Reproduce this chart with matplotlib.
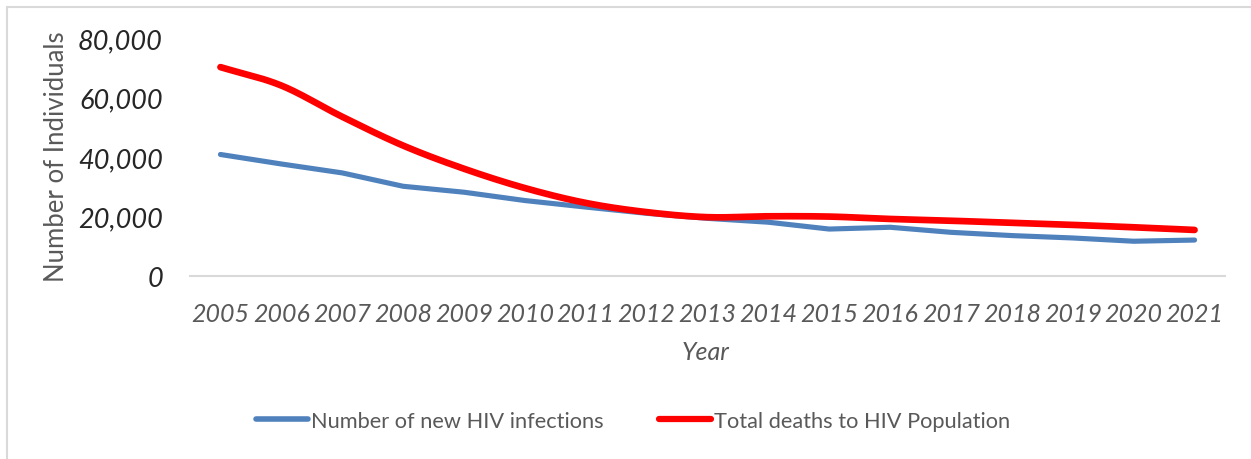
import matplotlib
matplotlib.use("Agg")
import matplotlib.pyplot as plt
import numpy as np
from matplotlib.patches import Rectangle
from matplotlib.ticker import FuncFormatter
from matplotlib.lines import Line2D

years = [str(y) for y in range(2005, 2022)]
new_infections = [40900, 37700, 34700, 30200, 28200, 25400, 23200, 21100, 19400,
                  18100, 15800, 16400, 14700, 13600, 12800, 11700, 12100]
total_deaths = [70300, 64100, 53600, 43900, 36100, 29600, 24600, 21500, 19800,
                20100, 20000, 19200, 18600, 17900, 17200, 16400, 15500]

BLUE = "#4F81BD"
RED = "#FF0000"
GRAY = "#595959"


def smooth(xs, ys, n=20):
    """Catmull-Rom style smoothing through every point (as in a smoothed line chart)."""
    xs = np.asarray(xs, float)
    ys = np.asarray(ys, float)
    px = np.concatenate([[2 * xs[0] - xs[1]], xs, [2 * xs[-1] - xs[-2]]])
    py = np.concatenate([[2 * ys[0] - ys[1]], ys, [2 * ys[-1] - ys[-2]]])
    ox, oy = [], []
    t = np.linspace(0, 1, n, endpoint=False)
    for i in range(1, len(px) - 2):
        p0, p1, p2, p3 = [np.array([px[j], py[j]]) for j in (i - 1, i, i + 1, i + 2)]
        c1 = p1 + (p2 - p0) / 6
        c2 = p2 - (p3 - p1) / 6
        b = ((1 - t) ** 3)[:, None] * p1 + (3 * (1 - t) ** 2 * t)[:, None] * c1 \
            + (3 * (1 - t) * t ** 2)[:, None] * c2 + (t ** 3)[:, None] * p2
        ox.extend(b[:, 0]); oy.extend(b[:, 1])
    ox.append(xs[-1]); oy.append(ys[-1])
    return np.array(ox), np.array(oy)


plt.rcParams["font.family"] = ["Lato", "DejaVu Sans"]

fig = plt.figure(figsize=(12.51, 4.60), dpi=100)
fig.patches.append(Rectangle((7 / 1251, -0.1), 1.2, (460 - 8) / 460 + 0.1,
                             transform=fig.transFigure, fill=False,
                             edgecolor="#D9D9D9", linewidth=1.5))

ax = fig.add_axes([190 / 1251, 1 - 277 / 460, (1225 - 190) / 1251, (277 - 39.3) / 460])
x = np.arange(len(years))

ax.plot(x, new_infections, color=BLUE, linewidth=3.7, solid_capstyle="round",
        solid_joinstyle="round")
sx, sy = smooth(x, total_deaths)
ax.plot(sx, sy, color=RED, linewidth=4.8, solid_capstyle="round",
        solid_joinstyle="round")

ax.set_xlim(-0.5, len(years) - 0.5)
ax.set_ylim(0, 80000)
ax.set_yticks([0, 20000, 40000, 60000, 80000])
ax.yaxis.set_major_formatter(FuncFormatter(lambda v, p: f"{int(v):,}"))
ax.set_xticks(x)
ax.set_xticklabels(years)

for s in ("top", "right", "left"):
    ax.spines[s].set_visible(False)
ax.spines["bottom"].set_color("#D9D9D9")
ax.spines["bottom"].set_linewidth(1.5)
ax.tick_params(axis="both", length=0)
ax.tick_params(axis="y", pad=19.5, labelsize=19.5, labelcolor="#262626")
ax.tick_params(axis="x", pad=19, labelsize=18, labelcolor=GRAY)
for lab in ax.get_yticklabels() + ax.get_xticklabels():
    lab.set_fontstyle("italic")

fig.text(57 / 1251, 1 - 157 / 460, "Number of Individuals", rotation=90,
         ha="center", va="center", fontsize=18.5, color=GRAY)
fig.text(706 / 1251, 1 - 352 / 460, "Year", ha="center", va="center",
         fontsize=18, color=GRAY, style="italic")

handles = [Line2D([], [], color=BLUE, linewidth=4, solid_capstyle="round"),
           Line2D([], [], color=RED, linewidth=4.5, solid_capstyle="round")]
leg = fig.legend(handles, ["Number of new HIV infections", "Total deaths to HIV Population"],
                 loc="center", bbox_to_anchor=(633 / 1251, 1 - 422 / 460), ncol=2,
                 frameon=False, fontsize=15.7, handlelength=2.4, handletextpad=0.15,
                 columnspacing=2.5, labelcolor=GRAY)

fig.savefig("out.png", dpi=100)
